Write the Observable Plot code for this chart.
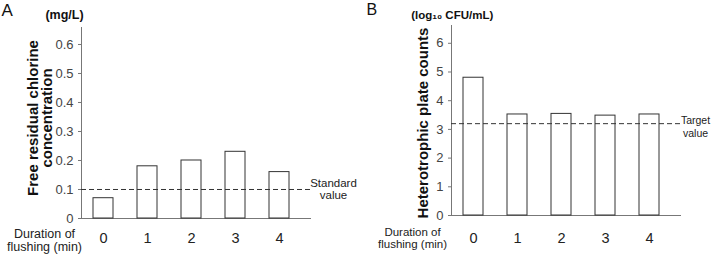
<!DOCTYPE html>
<html>
<head>
<meta charset="utf-8">
<script src="https://cdn.jsdelivr.net/npm/d3@7"></script>
<script src="https://cdn.jsdelivr.net/npm/@observablehq/plot@0.6"></script>
<style>
  html, body { margin: 0; padding: 0; background: #fff; }
  #figure { display: flex; width: 715px; height: 254px; }
  #figure svg { display: block; }
</style>
</head>
<body>
<div id="figure"></div>
<script>
// Flushing duration (min) on the x axis of both panels
const minutes = [0, 1, 2, 3, 4];

// Panel A: free residual chlorine (mg/L)
const chlorine = [0.07, 0.18, 0.20, 0.23, 0.16];
const chlorineStandard = 0.1;
const chlorineTicks = [0, 0.1, 0.2, 0.3, 0.4, 0.5, 0.6];

// Panel B: heterotrophic plate counts (log10 CFU/mL)
const hpc = [4.80, 3.52, 3.54, 3.48, 3.52];
const hpcTarget = 3.2;
const hpcTicks = [0, 1, 2, 3, 4, 5, 6];

const FONT = "'Liberation Sans', Arial, Helvetica, sans-serif";

function panel(p) {
  const data = minutes.map((m, i) => ({minute: m, value: p.values[i]}));
  return Plot.plot({
    width: p.width,
    height: 254,
    marginLeft: p.marginLeft,
    marginRight: p.marginRight,
    marginTop: p.marginTop,
    marginBottom: p.marginBottom,
    style: {fontFamily: FONT, fontSize: "13px", background: "#fff", overflow: "visible"},
    x: {type: "band", domain: minutes, range: p.xRange, paddingInner: 0.55, paddingOuter: 0.275, label: null},
    y: {domain: [0, p.yMax], label: null},
    marks: [
      Plot.axisY({ticks: p.ticks, tickFormat: p.tickFormat, tickSize: 3, tickPadding: 5,
                  stroke: "#777", fill: "#444", fontSize: 13, label: null}),
      Plot.axisX({tickSize: 0, tickPadding: p.xPad, fill: "#222", fontSize: 14.5, label: null}),
      Plot.frame({anchor: "left", stroke: "#777"}),
      Plot.frame({anchor: "bottom", stroke: "#777"}),
      Plot.barY(data, {x: "minute", y: "value", fill: "white", stroke: "#333", strokeWidth: 1}),
      Plot.ruleY([p.ref], {stroke: "#333", strokeDasharray: "5,3"}),
      // reference line label
      Plot.text([p.ref], {y: d => d, frameAnchor: "right", text: () => p.refLabel,
                          dx: p.refDx, dy: p.refDy, textAnchor: "middle",
                          lineAnchor: p.refAnchor, lineHeight: p.refLH,
                          fontSize: p.refSize, fill: "#222"}),
      // panel letter
      Plot.text([p.letter], {frameAnchor: "top-left", dx: p.letterDx, dy: p.letterDy,
                             textAnchor: "start", lineAnchor: "bottom",
                             fontSize: p.letterSize, fill: "#111"}),
      // unit
      Plot.text([p.unit], {frameAnchor: "top-left", dx: p.unitDx, dy: p.unitDy,
                           textAnchor: "middle", lineAnchor: "bottom",
                           fontSize: p.unitSize, fontWeight: "bold", fill: "#111"}),
      // y-axis title
      Plot.text([p.title], {frameAnchor: "left", dx: p.titleDx, dy: p.titleDy, rotate: -90,
                            textAnchor: "middle", lineAnchor: "middle", lineHeight: 0.95,
                            fontSize: 15, fontWeight: "bold", fill: "#111"}),
      // x-axis title
      Plot.text(["Duration of\nflushing (min)"], {frameAnchor: "bottom-left", dx: p.durDx, dy: p.durDy,
                            textAnchor: "middle", lineAnchor: "bottom", lineHeight: p.durLH,
                            fontSize: p.durSize, fill: "#222"})
    ]
  });
}

const fig = document.getElementById("figure");

fig.append(panel({
  width: 357, marginLeft: 81, marginRight: 47, marginTop: 27, marginBottom: 36,
  xRange: [79.5, 301.5], xPad: 14,
  values: chlorine, yMax: 0.6586, ticks: chlorineTicks,
  tickFormat: d => d === 0 ? "0" : d3.format(".1f")(d),
  ref: chlorineStandard, refLabel: "Standard\nvalue", refDx: 23, refDy: 0,
  refAnchor: "middle", refLH: 1.0, refSize: 11.5,
  letter: "A", letterDx: -80, letterDy: -12, letterSize: 17,
  unit: "(mg/L)", unitDx: -17, unitDy: -9, unitSize: 12.5,
  title: "Free residual chlorine\nconcentration", titleDx: -41.4, titleDy: -5,
  durDx: -37, durDy: 32, durLH: 1.0, durSize: 12.5
}));

fig.append(panel({
  width: 358, marginLeft: 94, marginRight: 35, marginTop: 25, marginBottom: 39,
  xRange: [93.1, 315.2], xPad: 17.5,
  values: hpc, yMax: 6.62, ticks: hpcTicks,
  tickFormat: d => String(d),
  ref: hpcTarget, refLabel: "Target\nvalue", refDx: 15, refDy: 13,
  refAnchor: "bottom", refLH: 1.2, refSize: 10.5,
  letter: "B", letterDx: -85, letterDy: -11, letterSize: 16,
  unit: "(log\u2081\u2080 CFU/mL)", unitDx: 0.7, unitDy: -7, unitSize: 11.5,
  title: "Heterotrophic plate counts", titleDx: -27.7, titleDy: 2.5,
  durDx: -39, durDy: 32.5, durLH: 1.05, durSize: 11.5
}));
</script>
</body>
</html>
